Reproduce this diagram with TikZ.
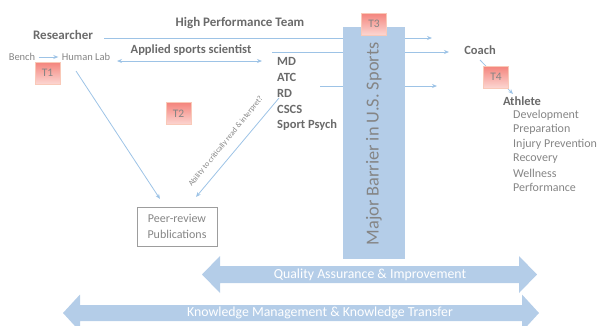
\documentclass[tikz,border=0pt]{standalone}
\usepackage{fontspec}
\setmainfont{Carlito}
\usetikzlibrary{arrows.meta}

\definecolor{hdrgray}{HTML}{6A6A6A}
\definecolor{txtgray}{HTML}{858585}
\definecolor{lineblue}{HTML}{9DC3E6}
\definecolor{barblue}{HTML}{B4CDE8}
\definecolor{tred}{HTML}{F4847C}
\definecolor{tpink}{HTML}{FCD6D2}
\definecolor{tedge}{HTML}{F9C9B8}

\tikzset{
  hdr/.style={text=hdrgray,font=\fontsize{13}{15}\selectfont\bfseries},
  role/.style={text=hdrgray,font=\fontsize{12.5}{14}\selectfont\bfseries,anchor=west,inner sep=0pt},
  item/.style={text=txtgray,font=\fontsize{12}{14}\selectfont,anchor=west,inner sep=0pt},
  lab/.style={text=txtgray,font=\fontsize{10.5}{12}\selectfont},
  tbox/.style={draw=tedge,top color=tred,bottom color=tpink,text=txtgray,
    minimum width=25pt,minimum height=22pt,inner sep=0pt,font=\fontsize{11.5}{13}\selectfont},
  link/.style={draw=lineblue,line width=0.8pt},
  tip/.style={link,-{Stealth[length=5pt,width=4pt]}},
  band/.style={fill=barblue},
  bandtext/.style={text=white,font=\fontsize{13.8}{15}\selectfont},
}

\begin{document}
\begin{tikzpicture}[x=1pt,y=-1pt]
    \useasboundingbox (0,0) rectangle (597,325);

    % bottom bands
    \fill[band] (202,274.5)--(220,256)--(220,266)--(519,266)--(519,256)--(537,274.5)
        --(519,293)--(519,283)--(220,283)--(220,293)--cycle;
    \node[bandtext] (qa) at (370,274.5) {Quality Assurance \& Improvement};
    \fill[band] (63,313)--(80,294.5)--(80,305)--(522,305)--(522,294.5)--(539,313)
        --(522,331.5)--(522,321)--(80,321)--(80,331.5)--cycle;
    \node[bandtext] (km) at (320,313) {Knowledge Management \& Knowledge Transfer};

    % left side
    \node[hdr] (res) at (63,35) {Researcher};
    \node[hdr] (hpt) at (240,23) {High Performance Team};
    \node[hdr,font=\fontsize{12.5}{14}\selectfont\bfseries] (ass) at (191,50) {Applied sports scientist};
    \node[lab] (bench) at (22,57) {Bench};
    \node[lab] (hlab) at (86,57) {Human Lab};
    \node[tbox] (t1) at (47.5,73) {T1};
    \node[tbox] (t2) at (178.5,113.5) {T2};

    \node[role] (md) at (277,61) {MD};
    \node[role] (atc) at (277,77) {ATC};
    \node[role] (rd) at (277,93) {RD};
    \node[role] (cscs) at (277,109) {CSCS};
    \node[role] (psy) at (277,125) {Sport Psych};

    \node[draw=txtgray!80,text=txtgray,align=center,minimum width=80pt,minimum height=39pt,
        inner sep=2pt,font=\fontsize{12}{16}\selectfont] (peer) at (177,226.5) {Peer-review\\Publications};

    \coordinate (r1) at (104,38);
    \coordinate (r2) at (432,38);
    \coordinate (a1) at (272,52);
    \coordinate (a2) at (449,52);
    \coordinate (m1) at (320,86);
    \coordinate (m2) at (437,86);
    \coordinate (h1) at (117,61);
    \coordinate (h2) at (262,61);
    \coordinate (h3) at (76,71);
    \coordinate (h4) at (160,199);
    \coordinate (p1) at (279,98);
    \coordinate (p2) at (196,197);

    \draw[tip] (r1) -- (r2);
    \draw[tip] (a1) -- (a2);
    \draw[tip] (m1) -- (m2);
    \draw[tip] (bench.east) -- (hlab.west);
    \draw[link,{Stealth[length=5pt,width=4pt]}-{Stealth[length=5pt,width=4pt]}] (h1) -- (h2);
    \draw[tip] (h3) -- (h4);
    \draw[tip] (p1) -- (p2);
    \node[rotate=51,text=txtgray,font=\fontsize{7.8}{9}\selectfont,inner sep=0pt] (crit) at (226,141.5) {Ability to critically read \& interpret?};

    % barrier
    \fill[band] (343,27) rectangle (405,259);
    \node[rotate=90,text=txtgray,font=\fontsize{18.3}{20}\selectfont] (bar) at (374,144) {Major Barrier in U.S. Sports};
    \node[tbox] (t3) at (374,24) {T3};

    % right side
    \node[hdr,font=\fontsize{12.5}{14}\selectfont\bfseries] (coach) at (480,50) {Coach};
    \node[hdr,font=\fontsize{12.5}{14}\selectfont\bfseries] (ath) at (522,101) {Athlete};
    \coordinate (c1) at (480,60);
    \coordinate (c2) at (513,94);
    \draw[tip] (c1) -- (c2);
    \node[tbox] (t4) at (496,77) {T4};

    \node[item] (dev) at (513,115) {Development};
    \node[item] (prep) at (513,129.5) {Preparation};
    \node[item] (inj) at (513,144) {Injury Prevention};
    \node[item] (rec) at (513,158.5) {Recovery};
    \node[item] (well) at (513,173) {Wellness};
    \node[item] (perf) at (513,187.5) {Performance};
\end{tikzpicture}
\end{document}
